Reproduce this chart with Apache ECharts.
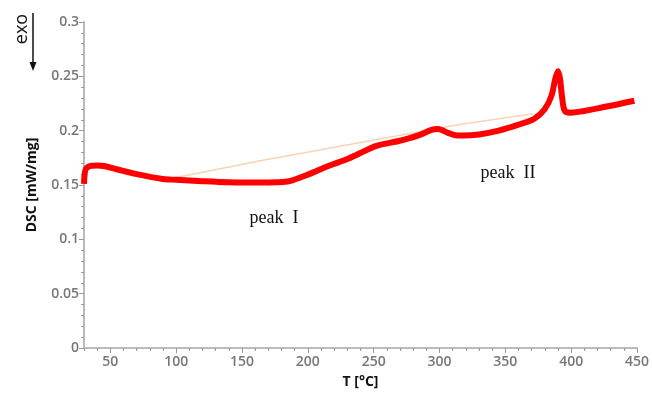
<!DOCTYPE html>
<html><head><meta charset="utf-8">
<script src="https://cdn.jsdelivr.net/npm/echarts@6/dist/echarts.min.js"></script>
<style>html,body{margin:0;padding:0;background:#fff}#c{width:652px;height:394px}</style>
</head><body><div id="c"></div>
<script>
const temps = [30,30.5,31.5,35,40,45,55,70,90,100,120,140,163,176,186,201,216,231,246,254,269,284,294,299,306.5,312,318,330,345,360,372,380,385,388,390,391.5,393,395,399,420,448];
const dsc = [0.151,0.160,0.165,0.1675,0.168,0.1675,0.1645,0.160,0.1555,0.1548,0.1535,0.1525,0.1522,0.1525,0.1535,0.160,0.1677,0.1744,0.183,0.1866,0.1905,0.1957,0.2008,0.2015,0.198,0.1958,0.1955,0.1965,0.200,0.2055,0.211,0.220,0.232,0.248,0.2546,0.248,0.232,0.2185,0.2165,0.2205,0.2275];
const baseT = [100,163,314,371];
const baseV = [0.157,0.172,0.2055,0.2155];
const xMajor = [50,100,150,200,250,300,350,400,450];
const xMinor = [];
for (let t = 30; t <= 450; t += 10) xMinor.push(t);

const chart = echarts.init(document.getElementById('c'));
const lblFont = {color:'#777', fontSize:14, fontFamily:'Open Sans', fontWeight:600};
chart.setOption({
  animation:false,
  grid:{left:84,right:12,top:22,bottom:44},
  xAxis:[{
    type:'value', min:30, max:450,
    name:'T [°C]', nameLocation:'middle', nameGap:27,
    nameTextStyle:{color:'#111', fontSize:14, fontWeight:'bold', fontFamily:'Open Sans'},
    axisLine:{lineStyle:{color:'#bbb', width:2}},
    axisTick:{customValues:xMajor, length:5, lineStyle:{color:'#999'}},
    axisLabel:Object.assign({customValues:xMajor, margin:7}, lblFont),
    splitLine:{show:false}
  },{
    type:'value', min:30, max:450, position:'bottom',
    axisLine:{show:false},
    axisTick:{customValues:xMinor, length:3, lineStyle:{color:'#999'}},
    axisLabel:{show:false}, splitLine:{show:false}
  }],
  yAxis:{
    type:'value', min:0, max:0.3, interval:0.05,
    name:'DSC [mW/mg]', nameLocation:'middle', nameGap:45,
    nameTextStyle:{color:'#111', fontSize:14, fontWeight:'bold', fontFamily:'Open Sans'},
    axisLine:{show:true, lineStyle:{color:'#bbb', width:2}},
    axisTick:{show:true, length:5, lineStyle:{color:'#999'}},
    minorTick:{show:true, splitNumber:5, length:3, lineStyle:{color:'#999'}},
    axisLabel:Object.assign({margin:5}, lblFont),
    splitLine:{show:false}
  },
  series:[{
    type:'line', data:baseT.map((t,i)=>[t,baseV[i]]), showSymbol:false,
    lineStyle:{color:'#f8d3b8', width:1.5}, z:1
  },{
    type:'line', data:temps.map((t,i)=>[t,dsc[i]]), showSymbol:false, smooth:0.3,
    lineStyle:{color:'#ff0000', width:6}, z:2
  }],
  graphic:[
    {type:'text', x:22, y:29, rotation:Math.PI/2, style:{text:'exo', font:'18px "Open Sans"', fill:'#111', align:'center', verticalAlign:'middle'}},
    {type:'line', shape:{x1:33, y1:13, x2:33, y2:64}, style:{stroke:'#111', lineWidth:1.5}},
    {type:'polygon', shape:{points:[[29.5,62],[36.5,62],[33,71]]}, style:{fill:'#111'}},
    {type:'text', x:274, y:218, style:{text:'peak  I', font:'18px "Liberation Serif"', fill:'#111', align:'center', verticalAlign:'middle'}},
    {type:'text', x:508, y:173, style:{text:'peak  II', font:'18px "Liberation Serif"', fill:'#111', align:'center', verticalAlign:'middle'}}
  ]
});
</script></body></html>
